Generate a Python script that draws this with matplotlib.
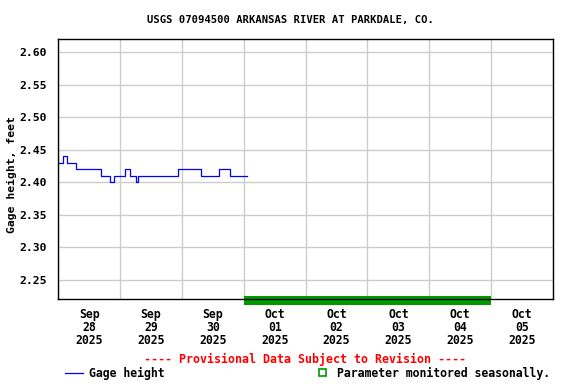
import numpy as np
import pandas as pd
import matplotlib
matplotlib.use("Agg")
import matplotlib.pyplot as plt
import matplotlib.dates as mdates
from matplotlib.patches import Rectangle
from matplotlib.lines import Line2D
import matplotlib.transforms as mtransforms

# gage height, step changes (time, feet)
step_times = [
    "2025-09-28 00:00", "2025-09-28 02:00", "2025-09-28 03:15",
    "2025-09-28 06:45", "2025-09-28 16:45", "2025-09-28 20:15",
    "2025-09-28 21:30", "2025-09-29 01:45", "2025-09-29 04:00",
    "2025-09-29 06:00", "2025-09-29 06:45", "2025-09-29 22:30",
    "2025-09-30 07:15", "2025-09-30 14:15", "2025-09-30 18:45",
    "2025-10-01 01:15",
]
gage_height = [
    2.43, 2.44, 2.43,
    2.42, 2.41, 2.40,
    2.41, 2.42, 2.41,
    2.40, 2.41, 2.42,
    2.41, 2.42, 2.41,
    2.41,
]

seasonal_start = "2025-10-01 00:00"
seasonal_end = "2025-10-05 00:00"

x_start = "2025-09-28 00:00"
x_end = "2025-10-06 00:00"
y_ticks = [2.25, 2.30, 2.35, 2.40, 2.45, 2.50, 2.55, 2.60]
y_min, y_max = 2.22, 2.62

title = "USGS 07094500 ARKANSAS RIVER AT PARKDALE, CO."
ylabel = "Gage height, feet"
provisional = "---- Provisional Data Subject to Revision ----"

mono = "DejaVu Sans Mono"
grid_color = "#cccccc"
green = "#009900"

fig = plt.figure(figsize=(5.76, 3.84), dpi=100)
ax = fig.add_axes([58.3 / 576, 1 - 299.3 / 384, (553 - 58.3) / 576, (299.3 - 39.3) / 384])

times = pd.to_datetime(step_times)
ax.plot(times, gage_height, color="#0000ff", linewidth=0.9, drawstyle="steps-post", zorder=3)

ax.set_xlim(pd.Timestamp(x_start), pd.Timestamp(x_end))
ax.set_ylim(y_min, y_max)

# seasonal bar sitting on the bottom axis
trans = mtransforms.blended_transform_factory(ax.transData, ax.transAxes)
s0 = mdates.date2num(pd.Timestamp(seasonal_start))
s1 = mdates.date2num(pd.Timestamp(seasonal_end))
ax.add_patch(Rectangle((s0, -0.022), s1 - s0, 0.035, transform=trans,
                       facecolor=green, edgecolor="none", clip_on=False, zorder=2.5))

# gridlines at midnight, labels at noon
ax.xaxis.set_major_locator(mdates.DayLocator())
ax.xaxis.set_major_formatter(plt.NullFormatter())
ax.xaxis.set_minor_locator(mdates.HourLocator(byhour=[12]))
ax.xaxis.set_minor_formatter(mdates.DateFormatter("%b\n%d\n%Y"))
ax.tick_params(axis="x", which="both", length=0)
ax.tick_params(axis="x", which="minor", pad=6.5)
for lbl in ax.xaxis.get_minorticklabels():
    lbl.set_fontfamily(mono)
    lbl.set_fontweight("bold")
    lbl.set_fontsize(8.3)
    lbl.set_linespacing(1.0)

ax.set_yticks(y_ticks)
ax.set_yticklabels(["%.2f" % v for v in y_ticks], fontfamily=mono, fontweight="bold", fontsize=8.2)
ax.tick_params(axis="y", length=0, pad=8)

ax.grid(True, which="major", color=grid_color, linewidth=1.0)
ax.set_axisbelow(True)
for sp in ax.spines.values():
    sp.set_color("black")
    sp.set_linewidth(1.0)
    sp.set_zorder(4)

fig.text(12 / 576, 1 - 175 / 384, ylabel, ha="center", va="center", rotation=90,
         fontfamily=mono, fontweight="bold", fontsize=8.2)

fig.text(0.505, 1 - 19.5 / 384, title, ha="center", va="center",
         fontfamily=mono, fontweight="bold", fontsize=7.6)
fig.text(305 / 576, 1 - 359 / 384, provisional, ha="center", va="center",
         color="red", fontfamily=mono, fontweight="bold", fontsize=8.4)

# legend row
ly = 1 - 373 / 384
fig.add_artist(Line2D([65 / 576, 82.7 / 576], [ly, ly], color="#0000ff", linewidth=0.9))
fig.text(88.7 / 576, ly, "Gage height", ha="left", va="center",
         fontfamily=mono, fontweight="bold", fontsize=8.3)
fig.add_artist(Rectangle((318.5 / 576, 1 - 376 / 384), 7.5 / 576, 7.5 / 384,
                         transform=fig.transFigure, facecolor="none",
                         edgecolor=green, linewidth=1.2))
fig.text(336.7 / 576, ly, "Parameter monitored seasonally.", ha="left", va="center",
         fontfamily=mono, fontweight="bold", fontsize=8.3)

fig.savefig("out.png", dpi=100)
